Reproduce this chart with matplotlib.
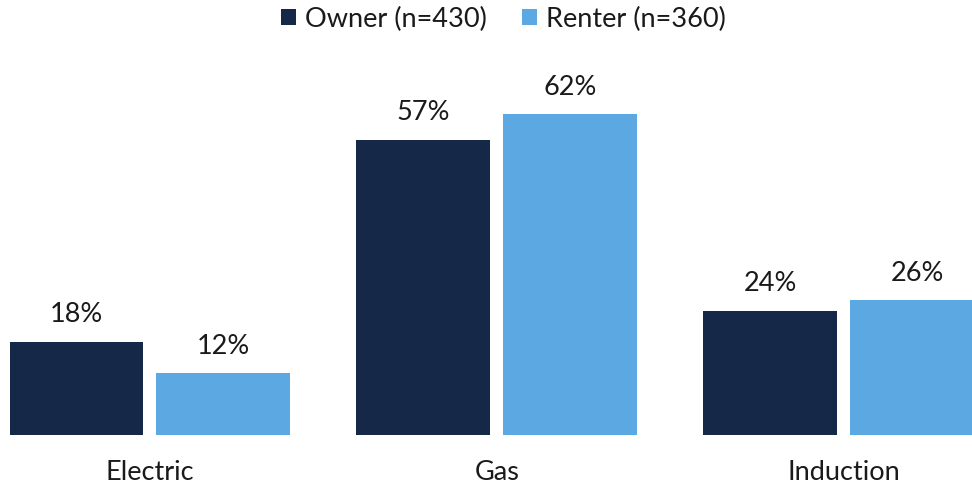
import matplotlib.pyplot as plt
import numpy as np

categories = ['Electric', 'Gas', 'Induction']
owner = [18, 57, 24]
renter = [12, 62, 26]
series_names = ['Owner (n=430)', 'Renter (n=360)']
colors = ['#152847', '#5BA8E3']

plt.rcParams['font.family'] = ['Lato', 'DejaVu Sans']

fig = plt.figure(figsize=(9.72, 4.85), dpi=100)
ax = fig.add_axes([10/972, 49/485, 962/972, 386/485])

x = np.arange(len(categories))
w = 0.386
off = w/2 + 0.019
b1 = ax.bar(x - off, owner, w, color=colors[0], label=series_names[0])
b2 = ax.bar(x + off, renter, w, color=colors[1], label=series_names[1])

for bars, vals in [(b1, owner), (b2, renter)]:
    for r, v in zip(bars, vals):
        ax.annotate(f'{v}%', (r.get_x() + r.get_width()/2, v), xytext=(0, 11),
                    textcoords='offset points', ha='center', va='bottom',
                    fontsize=19.5, color='#1a1a1a')

ax.set_xlim(-0.403, -0.403 + 962/347)
ax.set_ylim(0, 386/5.18)
ax.set_xticks(x)
ax.set_xticklabels(categories, fontsize=19.5, color='#1a1a1a')
ax.tick_params(axis='x', length=0, pad=17)
ax.set_yticks([])
for s in ax.spines.values():
    s.set_visible(False)

fig.legend(loc='upper center', bbox_to_anchor=(0.518, 1.035), ncol=2, frameon=False,
           fontsize=19.5, handlelength=0.55, handleheight=0.55, handletextpad=0.35,
           columnspacing=1.3, labelcolor='#1a1a1a')

fig.savefig('out.png', dpi=100)
